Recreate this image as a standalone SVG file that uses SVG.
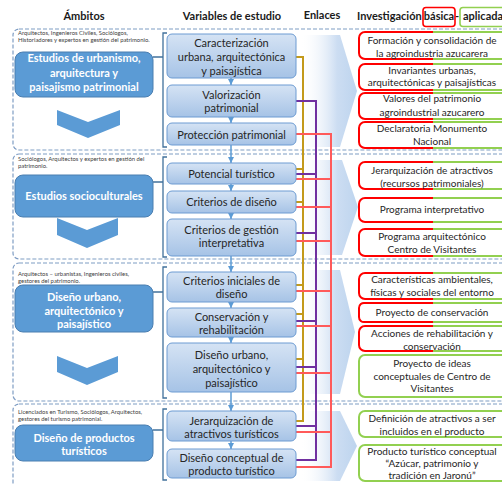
<svg xmlns="http://www.w3.org/2000/svg" width="502" height="484" viewBox="0 0 502 484">
<defs>
<linearGradient id="gv" x1="0" y1="0" x2="0" y2="1">
<stop offset="0" stop-color="#D5E3F4"/>
<stop offset="1" stop-color="#A6C3E6"/>
</linearGradient>
<linearGradient id="ga" x1="0" y1="0" x2="1" y2="0">
<stop offset="0" stop-color="#FFFFFF" stop-opacity="0"/>
<stop offset="0.65" stop-color="#CCDDF2"/>
<stop offset="1" stop-color="#BDD4EE"/>
</linearGradient>
<marker id="ar" markerWidth="6" markerHeight="6" refX="6" refY="3" orient="auto" markerUnits="userSpaceOnUse">
<path d="M0,0 L6,3 L0,6 z" fill="#5B9BD5"/>
</marker>
<style>
.hd{font-family:Lato,"Liberation Sans",sans-serif;font-weight:bold;font-size:11px;fill:#1a1a1a}
.sec{fill:none;stroke:#7F9DC4;stroke-width:1.2;stroke-dasharray:4,2}
.gt{font-family:Lato,"Liberation Sans",sans-serif;font-size:5.9px;fill:#404040}
.ab{fill:#5B9BD5;stroke:#4A7EB0;stroke-width:1}
.at{font-family:Lato,"Liberation Sans",sans-serif;font-weight:bold;font-size:11px;fill:#FFFFFF;text-anchor:middle}
.chev{fill:#5B9BD5}
.br{fill:none;stroke:#41719C;stroke-width:1.3}
.vb{fill:url(#gv);stroke:#6C9BD2;stroke-width:1}
.vt{font-family:Lato,"Liberation Sans",sans-serif;font-size:11px;fill:#262626;text-anchor:middle}
.lk{stroke:#5B9BD5;stroke-width:1.5;fill:none;marker-end:url(#ar)}
.garr{fill:url(#ga)}
.gold{stroke:#C39A1B;stroke-width:2;fill:none}
.purp{stroke:#7030A0;stroke-width:2;fill:none}
.red{stroke:#FF5A5A;stroke-width:2;fill:none}
.rb{fill:none;stroke:#FF0000;stroke-width:2}
.gb{fill:none;stroke:#92D050;stroke-width:2}
.rt{font-family:Lato,"Liberation Sans",sans-serif;font-size:10px;fill:#262626;text-anchor:middle}
</style>
</defs>
<rect x="0" y="0" width="502" height="484" fill="#FFFFFF"/>

<g id="header">
<text class="hd" x="84" y="20" text-anchor="middle">Ámbitos</text>
<text class="hd" x="232" y="20" text-anchor="middle">Variables de estudio</text>
<text class="hd" x="322" y="19" text-anchor="middle">Enlaces</text>
<text class="hd" x="357" y="20">Investigación</text>
<rect x="423" y="7.5" width="32" height="19" rx="3" fill="none" stroke="#FF0000" stroke-width="1.6"/>
<text class="hd" x="439" y="20" text-anchor="middle">básica</text>
<text class="hd" x="457" y="20" text-anchor="middle">-</text>
<rect x="460" y="7.5" width="50" height="19" rx="3" fill="none" stroke="#92D050" stroke-width="1.6"/>
<text class="hd" x="463" y="20">aplicada</text>
</g>

<g id="sections">
<rect class="sec" x="13" y="29" width="520" height="121" rx="6"/>
<rect class="sec" x="13" y="154" width="520" height="105" rx="6"/>
<rect class="sec" x="13" y="263" width="520" height="138" rx="6"/>
<rect class="sec" x="13" y="404" width="520" height="100" rx="6"/>
</g>

<g id="flow-arrows">
<polygon class="garr" points="300,35 340,35 357,91 340,147 300,147"/>
<polygon class="garr" points="300,160 342,160 358,207 342,255 300,255"/>
<polygon class="garr" points="300,270 340,270 355,332 340,394 300,394"/>
<polygon class="garr" points="300,411 340,411 357,446 340,481 300,481"/>
</g>

<g id="connectors">
<path class="br" d="M167,33 H163 V147 H167 M153,57 H163"/>
<path class="br" d="M167,157 H163 V257 H167 M153,182 H163"/>
<path class="br" d="M167,267 H163 V398 H167 M153,292 H163"/>
<path class="br" d="M167,409 H163 V480 H167 M153,430 H163"/>
<path class="lk" d="M231,78 V85"/>
<path class="lk" d="M231,117 V123"/>
<path class="lk" d="M231,145 V163"/>
<path class="lk" d="M231,184 V191"/>
<path class="lk" d="M231,213 V219"/>
<path class="lk" d="M231,256 V272"/>
<path class="lk" d="M231,302 V308"/>
<path class="lk" d="M231,337 V343"/>
<path class="lk" d="M231,392 V411"/>
<path class="lk" d="M231,441 V449"/>
<path class="gold" d="M296,57 H303 V421 H296 M296,169 H303 M296,202 H303 M296,285 H303 M296,314 H303 M296,359 H303"/>
<path class="purp" d="M296,101 H316 V460 H296 M296,174 H316 M296,233 H316 M296,321 H316 M296,367 H316 M296,426 H316"/>
<path class="red" d="M296,134 H331 V467 H296 M296,179 H331 M296,207 H331 M296,241 H331 M296,291 H331 M296,326 H331 M296,373 H331 M296,432 H331"/>
</g>

<g id="ambito1">
<text class="gt" x="18" y="35">Arquitectos, Ingenieros Civiles, Sociólogos,</text>
<text class="gt" x="18" y="41.5">Historiadores y expertos en gestión del patrimonio.</text>
<rect class="ab" x="15" y="52" width="138" height="45" rx="8"/>
<text class="at" x="84" y="62">Estudios de urbanismo,</text>
<text class="at" x="84" y="76.5">arquitectura y</text>
<text class="at" x="84" y="91">paisajismo patrimonial</text>
<polygon class="chev" points="57,110 88,122 120,110 120,125 88,138 57,125"/>
</g>

<g id="ambito2">
<text class="gt" x="18" y="161">Sociólogos, Arquitectos y expertos en gestión del</text>
<text class="gt" x="18" y="167.5">patrimonio.</text>
<rect class="ab" x="15" y="175" width="138" height="42" rx="8"/>
<text class="at" x="84" y="199.5">Estudios socioculturales</text>
<polygon class="chev" points="57,218 87,230 118,218 118,235 87,248 57,235"/>
</g>

<g id="ambito3">
<text class="gt" x="18" y="276">Arquitectos – urbanistas, Ingenieros civiles,</text>
<text class="gt" x="18" y="282.5">gestores del patrimonio.</text>
<rect class="ab" x="15" y="285" width="138" height="47" rx="8"/>
<text class="at" x="84" y="300.5">Diseño urbano,</text>
<text class="at" x="84" y="314.5">arquitectónico y</text>
<text class="at" x="84" y="328">paisajístico</text>
<polygon class="chev" points="57,356 87,368 118,356 118,372 87,385 57,372"/>
</g>

<g id="ambito4">
<text class="gt" x="18" y="414">Licenciados en Turismo, Sociólogos, Arquitectos,</text>
<text class="gt" x="18" y="420.5">gestores del turismo patrimonial.</text>
<rect class="ab" x="15" y="425" width="138" height="36" rx="8"/>
<text class="at" x="84" y="441.5">Diseño de productos</text>
<text class="at" x="84" y="455">turísticos</text>
</g>

<g id="v-caracterizacion">
<rect class="vb" x="167" y="34" width="129" height="44" rx="5"/>
<text class="vt" x="231.5" y="47">Caracterización</text>
<text class="vt" x="231.5" y="61">urbana, arquitectónica</text>
<text class="vt" x="231.5" y="75">y paisajística</text>
</g>
<g id="v-valorizacion">
<rect class="vb" x="167" y="85" width="129" height="32" rx="5"/>
<text class="vt" x="231.5" y="99">Valorización</text>
<text class="vt" x="231.5" y="112">patrimonial</text>
</g>
<g id="v-proteccion">
<rect class="vb" x="167" y="123" width="129" height="22" rx="5"/>
<text class="vt" x="231.5" y="138.5">Protección patrimonial</text>
</g>
<g id="v-potencial">
<rect class="vb" x="167" y="163" width="129" height="21" rx="5"/>
<text class="vt" x="231.5" y="177.5">Potencial turístico</text>
</g>
<g id="v-criterios-diseno">
<rect class="vb" x="167" y="191" width="129" height="22" rx="5"/>
<text class="vt" x="231.5" y="206">Criterios de diseño</text>
</g>
<g id="v-criterios-gestion">
<rect class="vb" x="167" y="219" width="129" height="37" rx="5"/>
<text class="vt" x="231.5" y="234">Criterios de gestión</text>
<text class="vt" x="231.5" y="247">interpretativa</text>
</g>
<g id="v-criterios-iniciales">
<rect class="vb" x="167" y="272" width="129" height="30" rx="5"/>
<text class="vt" x="231.5" y="285">Criterios iniciales de</text>
<text class="vt" x="231.5" y="298">diseño</text>
</g>
<g id="v-conservacion">
<rect class="vb" x="167" y="308" width="129" height="29" rx="5"/>
<text class="vt" x="231.5" y="321">Conservación y</text>
<text class="vt" x="231.5" y="334">rehabilitación</text>
</g>
<g id="v-diseno-urbano">
<rect class="vb" x="167" y="343" width="129" height="49" rx="5"/>
<text class="vt" x="231.5" y="359">Diseño urbano,</text>
<text class="vt" x="231.5" y="373">arquitectónico y</text>
<text class="vt" x="231.5" y="387">paisajístico</text>
</g>
<g id="v-jerarquizacion">
<rect class="vb" x="167" y="411" width="129" height="30" rx="5"/>
<text class="vt" x="231.5" y="425">Jerarquización de</text>
<text class="vt" x="231.5" y="438">atractivos turísticos</text>
</g>
<g id="v-diseno-conceptual">
<rect class="vb" x="167" y="449" width="129" height="29" rx="5"/>
<text class="vt" x="231.5" y="462">Diseño conceptual de</text>
<text class="vt" x="231.5" y="475">producto turístico</text>
</g>

<g id="r-formacion">
<path class="rb" d="M433,32 H365 A6,6 0 0 0 359,38 V53 A6,6 0 0 0 365,59 H433"/>
<path class="gb" d="M433,32 H510 M433,59 H510"/>
<text class="rt" x="432" y="43.5">Formación y consolidación de</text>
<text class="rt" x="432" y="56.5">la agroindustria azucarera</text>
</g>
<g id="r-invariantes">
<path class="rb" d="M433,64 H365 A6,6 0 0 0 359,70 V84 A6,6 0 0 0 365,90 H433"/>
<path class="gb" d="M433,64 H510 M433,90 H510"/>
<text class="rt" x="432" y="73.5">Invariantes urbanas,</text>
<text class="rt" x="432" y="86">arquitectónicas y paisajísticas</text>
</g>
<g id="r-valores">
<path class="rb" d="M433,93 H365 A6,6 0 0 0 359,99 V113 A6,6 0 0 0 365,119 H433"/>
<path class="gb" d="M433,93 H510 M433,119 H510"/>
<text class="rt" x="432" y="102">Valores del patrimonio</text>
<text class="rt" x="432" y="115.5">agroindustrial azucarero</text>
</g>
<g id="r-declaratoria">
<path class="rb" d="M433,122 H365 A6,6 0 0 0 359,128 V142 A6,6 0 0 0 365,148 H433"/>
<path class="gb" d="M433,122 H510 M433,148 H510"/>
<text class="rt" x="432" y="131.5">Declaratoria Monumento</text>
<text class="rt" x="432" y="145">Nacional</text>
</g>
<g id="r-jerarquizacion-recursos">
<path class="rb" d="M433,162 H365 A6,6 0 0 0 359,168 V183 A6,6 0 0 0 365,189 H433"/>
<path class="gb" d="M433,162 H510 M433,189 H510"/>
<text class="rt" x="432" y="173.5">Jerarquización de atractivos</text>
<text class="rt" x="432" y="186.5">(recursos patrimoniales)</text>
</g>
<g id="r-programa-interpretativo">
<path class="rb" d="M433,198 H365 A6,6 0 0 0 359,204 V216 A6,6 0 0 0 365,222 H433"/>
<path class="gb" d="M433,198 H510 M433,222 H510"/>
<text class="rt" x="432" y="212.5">Programa interpretativo</text>
</g>
<g id="r-programa-arquitectonico">
<path class="rb" d="M433,229 H365 A6,6 0 0 0 359,235 V250 A6,6 0 0 0 365,256 H433"/>
<path class="gb" d="M433,229 H510 M433,256 H510"/>
<text class="rt" x="432" y="239.5">Programa arquitectónico</text>
<text class="rt" x="432" y="252.5">Centro de Visitantes</text>
</g>
<g id="r-caracteristicas">
<path class="rb" d="M433,273 H365 A6,6 0 0 0 359,279 V293 A6,6 0 0 0 365,299 H433"/>
<path class="gb" d="M433,273 H510 M433,299 H510"/>
<text class="rt" x="432" y="282.5">Características ambientales,</text>
<text class="rt" x="432" y="295.5">físicas y sociales del entorno</text>
</g>
<g id="r-proyecto-conservacion">
<path class="rb" d="M433,303 H365 A5,5 0 0 0 359,308 V317 A5,5 0 0 0 365,322 H433"/>
<path class="gb" d="M433,303 H510 M433,322 H510"/>
<text class="rt" x="432" y="315.5">Proyecto de conservación</text>
</g>
<g id="r-acciones">
<path class="rb" d="M433,326 H365 A6,6 0 0 0 359,332 V345 A6,6 0 0 0 365,351 H433"/>
<path class="gb" d="M433,326 H510 M433,351 H510"/>
<text class="rt" x="432" y="336.5">Acciones de rehabilitación y</text>
<text class="rt" x="432" y="349.5">conservación</text>
</g>
<g id="r-proyecto-ideas">
<path class="gb" d="M510,355 H365 A6,6 0 0 0 359,361 V391 A6,6 0 0 0 365,397 H510"/>
<text class="rt" x="432" y="366.5">Proyecto de ideas</text>
<text class="rt" x="432" y="379.5">conceptuales de Centro de</text>
<text class="rt" x="432" y="392">Visitantes</text>
</g>
<g id="r-definicion">
<path class="gb" d="M510,411 H365 A6,6 0 0 0 359,417 V431 A6,6 0 0 0 365,437 H510"/>
<text class="rt" x="432" y="421.5">Definición de atractivos a ser</text>
<text class="rt" x="432" y="434.5">incluidos en el producto</text>
</g>
<g id="r-producto">
<path class="gb" d="M510,445 H365 A6,6 0 0 0 359,451 V475 A6,6 0 0 0 365,481 H510"/>
<text class="rt" x="432" y="454.5">Producto turístico conceptual</text>
<text class="rt" x="432" y="466.5">“Azúcar, patrimonio y</text>
<text class="rt" x="432" y="478.5">tradición en Jaronú”</text>
</g>
</svg>
